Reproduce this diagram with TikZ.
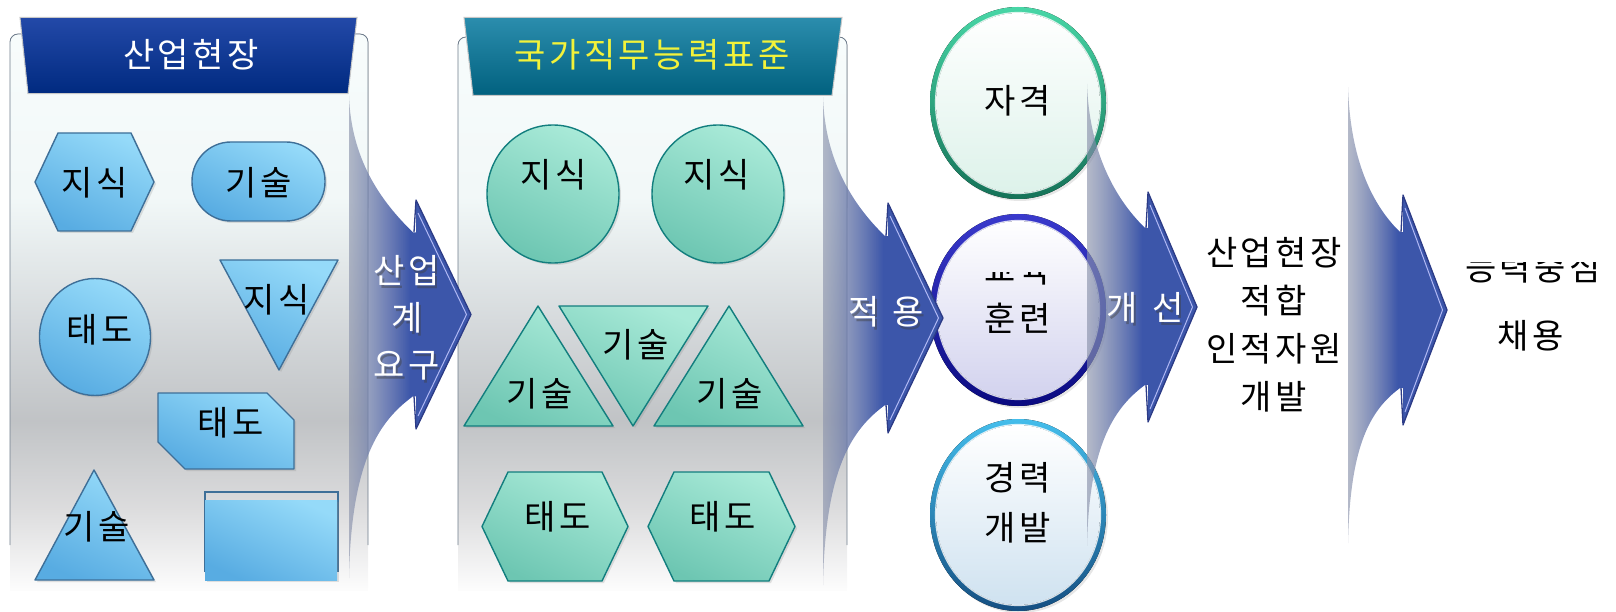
\documentclass[tikz,border=0pt]{standalone}
\usepackage{fontspec}
\newfontfamily\kr{Noto Sans CJK KR}
\usetikzlibrary{shadows,fadings}
% letter spacing between Hangul syllables
\XeTeXinterchartokenstate=1
\newcount\hcnt
\hcnt="AC00
\loop \XeTeXcharclass\hcnt=7 \ifnum\hcnt<"D7A3 \advance\hcnt by 1 \repeat
\XeTeXinterchartoks 7 7 = {\kern3.5pt}
% panel background greys
\definecolor{pA}{rgb}{0.970,0.988,0.988}
\definecolor{pB}{rgb}{0.945,0.970,0.970}
\definecolor{pC}{rgb}{0.830,0.845,0.855}
\definecolor{pD}{rgb}{0.755,0.765,0.775}
\definecolor{pE}{rgb}{0.865,0.865,0.870}
\definecolor{pF}{rgb}{0.990,0.990,0.990}
\definecolor{pbord}{HTML}{6E7C8C}
% shapes
\definecolor{sbA}{HTML}{95DAF9}
\definecolor{sbB}{HTML}{58ACE2}
\definecolor{sbE}{HTML}{3E6F98}
\definecolor{stA}{HTML}{A9EAD8}
\definecolor{stB}{HTML}{6DC6B2}
\definecolor{stE}{HTML}{127E7E}
% headers
\definecolor{hA}{HTML}{2349A8}
\definecolor{hB}{HTML}{002A80}
\definecolor{hC}{HTML}{2B8DAD}
\definecolor{hD}{HTML}{01617F}
\definecolor{hY}{HTML}{F2F23A}
% arrows
\definecolor{arB}{HTML}{3C56AA}
\definecolor{arL}{HTML}{8C94AC}
\definecolor{arE}{HTML}{2C3B86}
\definecolor{arH}{HTML}{B0B8F4}
% orbs
\definecolor{rA}{HTML}{48D6A6}
\definecolor{rB}{HTML}{157258}
\definecolor{iA}{HTML}{DDF2EA}
\definecolor{rC}{HTML}{3A3ACC}
\definecolor{rD}{HTML}{0A0A80}
\definecolor{iB}{HTML}{D2D2EE}
\definecolor{rE}{HTML}{44BDEB}
\definecolor{rF}{HTML}{154F82}
\definecolor{iC}{HTML}{CFE2F0}

\tikzfading[name=tailfade, left color=transparent!35, right color=transparent!0, middle color=transparent!0]

\newcommand\panelbg[3]{%
  \fill[top color=pA, bottom color=pB, rounded corners=8pt] (#1,#3) rectangle (#2,216);
  \fill[top color=pB, bottom color=pC] (#1,200) rectangle (#2,331);
  \fill[top color=pC, bottom color=pD] (#1,330) rectangle (#2,421);
  \fill[top color=pD, bottom color=pE] (#1,420) rectangle (#2,511);
  \fill[top color=pE, bottom color=pF] (#1,510) rectangle (#2,590);
  \draw[pbord, line width=0.8pt, rounded corners=8pt] (#1,545) -- (#1,#3) -- (#2,#3) -- (#2,545);
}

\newcommand\flowarrow[9]{%
  \pgfmathsetmacro\tipy{(#6+#7)/2}%
  \path[left color=arL, right color=arB, middle color=arB, path fading=tailfade]
    (#1,#2) .. controls (#1+2,#2+63) and (#4-36,#8-32) .. (#4-3,#8)
    -- (#4,#8) -- (#4,#6) -- (#5,\tipy) -- (#4,#7) -- (#4,#9) -- (#4-3,#9)
    .. controls (#4-36,#9+24) and (#1+2,#9+64) .. (#1,#3) -- cycle;
  \fill[arB] (#4,#6) -- (#5,\tipy) -- (#4,#7) -- cycle;
  \draw[arE, line width=1.3pt, line join=round] (#4-2,#8) -- (#4,#6) -- (#5,\tipy) -- (#4,#7) -- (#4-2,#9);
  \draw[arH, line width=1pt] (#4+2,#6+13) -- (#5-4.5,\tipy) -- (#4+2,#7-13);
}

\newcommand\orb[6]{% cx cy ringtop ringbottom innerbottom ringgap
  \fill[top color=#3, bottom color=#4, drop shadow={shadow xshift=2pt, shadow yshift=-2pt, opacity=.2}] (#1,#2) ellipse [x radius=88pt, y radius=96pt];
  \fill[top color=white, bottom color=#5] (#1,#2) ellipse [x radius=88pt-#6, y radius=96pt-#6];
  \draw[white, line width=1.2pt, opacity=.8] (#1,#2) ellipse [x radius=88.5pt-#6, y radius=96.5pt-#6];
}

\begin{document}
\begin{tikzpicture}[x=1pt, y=-1pt,
  txt/.style={font=\kr\fontsize{34}{48}\selectfont, inner sep=0pt, align=center, text=black},
  wtxt/.style={txt, text=white},
  stxt/.style={txt, text=black!75, opacity=.45},
  bshape/.style={draw=sbE, line width=1.4pt, line join=round, top color=sbA, bottom color=sbB, shading angle=-25,
    drop shadow={shadow xshift=2pt, shadow yshift=-2pt, opacity=.22}},
  tshape/.style={draw=stE, line width=1.4pt, line join=round, top color=stA, bottom color=stB, shading angle=-25,
    drop shadow={shadow xshift=2pt, shadow yshift=-2pt, opacity=.22}},
  hdrline/.style={draw=black!22, line width=1pt}]
\useasboundingbox (0,0) rectangle (1616,612);

% ---------- panels ----------
\panelbg{10}{368}{34}
\panelbg{458}{847}{37}

% ---------- headers ----------
\draw[hdrline, top color=hA, bottom color=hB] (20,17.5) -- (357,17.5) -- (348,93.6) -- (28,93.6) -- cycle;
\draw[hdrline, top color=hC, bottom color=hD] (464,17.5) -- (842,17.5) -- (832,95.5) -- (473,95.5) -- cycle;

% ---------- panel 1 shapes ----------
\draw[bshape] (35,182) -- (58,133) -- (131,133) -- (154,182) -- (131,231) -- (58,231) -- cycle;
\draw[bshape, rounded corners=39pt] (192,142) rectangle (325,221);
\draw[bshape] (95,337) ellipse [x radius=55.5pt, y radius=58.5pt];
\draw[bshape] (220,260) -- (338,260) -- (279,370) -- cycle;
\draw[bshape] (158,393) -- (267,393) -- (294,420) -- (294,469) -- (185,469) -- (158,442) -- cycle;
\draw[bshape] (94,470) -- (154,580) -- (35,580) -- cycle;
\draw[sbE, line width=1.4pt] (205,572) -- (205,492) -- (338,492) -- (338,572);
\fill[top color=sbA, bottom color=sbB, shading angle=-25,
  drop shadow={shadow xshift=2pt, shadow yshift=-2pt, opacity=.22}] (205,500) rectangle (337,580);

% ---------- panel 2 shapes ----------
\draw[tshape] (553,194) ellipse [x radius=66pt, y radius=69pt];
\draw[tshape] (718,194) ellipse [x radius=66pt, y radius=69pt];
\draw[tshape] (538,306) -- (613,426) -- (464,426) -- cycle;
\draw[tshape] (559,306) -- (708,306) -- (633,426) -- cycle;
\draw[tshape] (729,306) -- (803,426) -- (654,426) -- cycle;
\draw[tshape] (482,526.5) -- (508,472) -- (602,472) -- (628,526.5) -- (602,581) -- (508,581) -- cycle;
\draw[tshape] (648,526.5) -- (674,472) -- (769,472) -- (795,526.5) -- (769,581) -- (674,581) -- cycle;

% ---------- orbs ----------
\orb{1018}{103}{rA}{rB}{iA}{6pt}
\orb{1018}{310}{rC}{rD}{iB}{7pt}
\orb{1018}{515}{rE}{rF}{iC}{6pt}

% ---------- arrows ----------
\flowarrow{349}{95}{578}{416}{471}{200}{429}{232}{396}
\flowarrow{823}{97}{585}{888}{943}{203}{433}{236}{405}
\flowarrow{1087}{84}{546}{1148}{1197}{192}{422}{228}{385}
\flowarrow{1348}{87}{543}{1403}{1447}{195}{425}{232}{388}

% ---------- texts ----------
\node[wtxt] (h1) at (191,55) {산업현장};
\node[txt, text=hY] (h2) at (652,55) {국가직무능력표준};

\node[txt] (a1) at (95,183) {지식};
\node[txt] (a2) at (259,183) {기술};
\node[txt] (a3) at (100,330) {태도};
\node[txt] (a4) at (277,300) {지식};
\node[txt] (a5) at (231,423) {태도};
\node[txt] (a6) at (97,527) {기술};

\node[txt] (b1) at (554,175) {지식};
\node[txt] (b2) at (717,175) {지식};
\node[txt] (b3) at (540,394) {기술};
\node[txt] (b4) at (636,345) {기술};
\node[txt] (b5) at (730,394) {기술};
\node[txt] (b6) at (558,517) {태도};
\node[txt] (b7) at (723,517) {태도};

\node[stxt, font=\kr\fontsize{34}{47}\selectfont] (r1s) at (409,321) {산업\\계\\요구};
\node[wtxt, font=\kr\fontsize{34}{47}\selectfont] (r1) at (407,318) {산업\\계\\요구};
\node[stxt] (r2s) at (888,315) {적\kern13pt용};
\node[wtxt] (r2) at (886,312) {적\kern13pt용};
\node[stxt] (r3s) at (1147,311) {개\kern15pt선};
\node[wtxt] (r3) at (1145,308) {개\kern15pt선};

\node[txt] (c1) at (1018,101) {자격};
\begin{scope}
  \clip (940,273) rectangle (1100,300);
  \node[txt] (c2a) at (1018,270) {교육};
\end{scope}
\node[txt] (c2b) at (1018,318) {훈련};
\node[txt, font=\kr\fontsize{34}{50}\selectfont] (c3) at (1018,503) {경력\\개발};

\node[txt] (d1) at (1274,324.5) {산업현장\\적합\\인적자원\\개발};
\begin{scope}
  \clip (1440,263) rectangle (1616,300);
  \node[txt] (e1) at (1533,268) {능력중심};
\end{scope}
\node[txt] (e2) at (1531,336) {채용};
\end{tikzpicture}
\end{document}
